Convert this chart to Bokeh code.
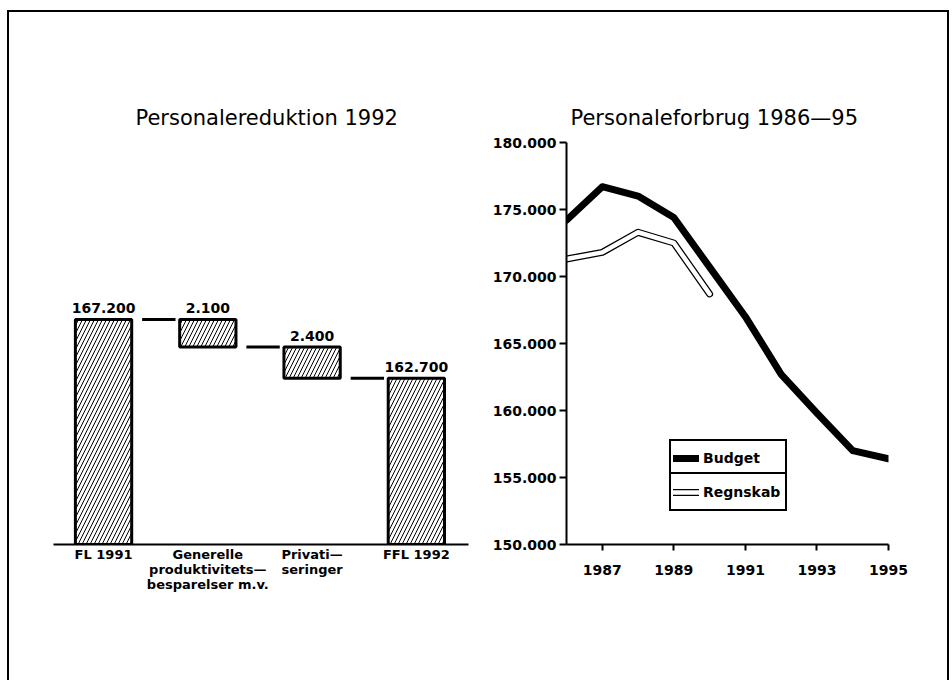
from bokeh.plotting import figure
from bokeh.models import (Range1d, FixedTicker, Legend, LegendItem, ColumnDataSource,
                          LabelSet)
from bokeh.layouts import row
from bokeh.embed import file_html
from bokeh.resources import INLINE
from bokeh.core.properties import value

# ---------------- data: left panel (waterfall) ----------------
steps = ["FL 1991", "Generelle\nproduktivitets\u2014\nbesparelser m.v.",
         "Privati\u2014\nseringer", "FFL 1992"]
amounts = [167200, -2100, -2400, 162700]
is_total = [True, False, False, True]
wf_base = 150000
wf_top = 180730

# ---------------- data: right panel (lines) ----------------
years = [1986, 1987, 1988, 1989, 1990, 1991, 1992, 1993, 1994, 1995]
budget = [174200, 176700, 176000, 174400, 170700, 167000, 162700, 159800, 157000, 156400]
regn_years = [1986, 1987, 1988, 1989, 1990]
regnskab = [171300, 171800, 173300, 172500, 168700]
y_ticks = [150000, 155000, 160000, 165000, 170000, 175000, 180000]
x_ticks = [1987, 1989, 1991, 1993, 1995]


def dk(v):
    return f"{v:,}".replace(",", ".")


FONT = "DejaVu Sans"

# ---------------- waterfall geometry from data ----------------
idx = list(range(len(steps)))
tops, bottoms, levels = [], [], []
running = 0
for a, t in zip(amounts, is_total):
    if t:
        running = a
        bottoms.append(wf_base)
        tops.append(a)
    else:
        new = running + a
        tops.append(max(running, new))
        bottoms.append(min(running, new))
        running = new
    levels.append(running)

bar_src = ColumnDataSource(dict(x=idx, top=tops, bottom=bottoms,
                                lab=[dk(abs(a)) for a in amounts]))

p1 = figure(width=460, height=668, x_range=Range1d(-0.48, 3.5),
            y_range=Range1d(wf_base, wf_top), output_backend="svg",
            toolbar_location=None, min_border_left=44, min_border_right=1,
            min_border_top=130, min_border_bottom=136)
p1.title.text = "Personalereduktion 1992"
p1.title.align = "left"
p1.title.text_font = FONT
p1.title.text_font_style = "normal"
p1.title.text_font_size = "21px"
p1.title.text_color = "black"
p1.title.offset = 82
p1.title.standoff = 26
p1.outline_line_color = None
p1.grid.visible = False
p1.yaxis.visible = False

p1.vbar(x="x", top="top", bottom="bottom", width=0.54, source=bar_src,
        fill_color="white", line_color="black", line_width=3,
        hatch_pattern="/", hatch_color="black", hatch_scale=8, hatch_weight=1)

# connectors between bars
p1.segment(x0=[i + 0.37 for i in idx[:-1]], x1=[i + 0.69 for i in idx[:-1]],
           y0=levels[:-1], y1=levels[:-1], line_color="black", line_width=3)

p1.add_layout(LabelSet(x="x", y="top", text="lab", source=bar_src, y_offset=6,
                       text_align="center", text_baseline="alphabetic",
                       text_font=value(FONT), text_font_style="bold",
                       text_font_size="14px", text_color="black"))

xa = p1.xaxis[0]
xa.ticker = FixedTicker(ticks=idx)
xa.major_label_overrides = {i: s for i, s in zip(idx, steps)}
xa.major_tick_line_color = None
xa.major_tick_out = 0
xa.major_tick_in = 0
xa.minor_tick_line_color = None
xa.axis_line_width = 2
xa.axis_line_color = "black"
xa.major_label_text_font = FONT
xa.major_label_text_font_style = "bold"
xa.major_label_text_font_size = "13px"
xa.major_label_text_line_height = 1.0
xa.major_label_text_color = "black"
xa.major_label_standoff = 2

# ---------------- right panel ----------------
p2 = figure(width=478, height=668, x_range=Range1d(1986, 1995),
            y_range=Range1d(150000, 180000), output_backend="svg",
            toolbar_location=None, min_border_left=97, min_border_right=59,
            min_border_top=130, min_border_bottom=133)
p2.title.text = "Personaleforbrug 1986\u201495"
p2.title.align = "left"
p2.title.text_font = FONT
p2.title.text_font_style = "normal"
p2.title.text_font_size = "21px"
p2.title.text_color = "black"
p2.title.offset = 4
p2.title.standoff = 26
p2.outline_line_color = None
p2.grid.visible = False

rb = p2.line(years, budget, line_color="black", line_width=7,
             line_join="round", line_cap="round")
rr1 = p2.line(regn_years, regnskab, line_color="black", line_width=7,
              line_join="round", line_cap="round")
rr2 = p2.line(regn_years, regnskab, line_color="white", line_width=4.5,
              line_join="round", line_cap="round")

for ax in (p2.xaxis[0], p2.yaxis[0]):
    ax.axis_line_width = 2
    ax.axis_line_color = "black"
    ax.major_tick_line_width = 2
    ax.major_tick_in = 0
    ax.minor_tick_line_color = None
    ax.major_label_text_font = FONT
    ax.major_label_text_font_style = "bold"
    ax.major_label_text_font_size = "14px"
    ax.major_label_text_color = "black"

p2.xaxis[0].ticker = FixedTicker(ticks=x_ticks)
p2.xaxis[0].major_tick_out = 6
p2.xaxis[0].major_label_standoff = 14
p2.yaxis[0].ticker = FixedTicker(ticks=y_ticks)
p2.yaxis[0].major_label_overrides = {t: dk(t) for t in y_ticks}
p2.yaxis[0].major_tick_out = 7
p2.yaxis[0].major_label_standoff = 3

leg_kw = dict(border_line_color="black", border_line_width=2, border_line_alpha=1,
              background_fill_color="white", background_fill_alpha=1,
              label_text_font=FONT, label_text_font_style="bold",
              label_text_font_size="14px", label_text_color="black", glyph_width=26,
              label_standoff=4, label_width=80, padding=2, margin=0, spacing=0)
leg1 = Legend(items=[LegendItem(label="Budget", renderers=[rb])], location=(103, 68),
              label_height=29, glyph_height=20, **leg_kw)
leg2 = Legend(items=[LegendItem(label="Regnskab", renderers=[rr1, rr2])], location=(103, 33),
              label_height=31, glyph_height=20, **leg_kw)
p2.add_layout(leg1)
p2.add_layout(leg2)

layout = row(p1, p2, styles={"margin-left": "7px", "margin-top": "10px",
                             "border-left": "2px solid black",
                             "border-top": "2px solid black",
                             "border-right": "2px solid black"})

open("out.html", "w").write(file_html(layout, INLINE))
